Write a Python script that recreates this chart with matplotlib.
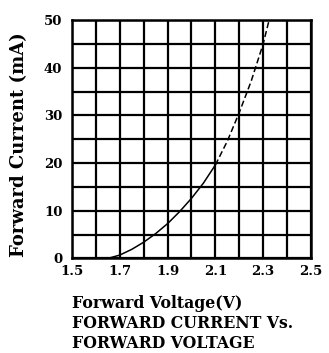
import matplotlib.pyplot as plt
import numpy as np

# measured part of the curve (solid) and extrapolated part (dashed)
v_solid = [1.65, 1.70, 1.75, 1.80, 1.85, 1.90, 1.95, 2.00, 2.05, 2.10]
i_solid = [0.0, 0.7, 1.9, 3.4, 5.2, 7.3, 9.8, 12.6, 15.8, 19.6]
v_dash = [2.10, 2.15, 2.20, 2.25, 2.30, 2.325]
i_dash = [19.6, 24.6, 30.6, 37.2, 45.0, 50.0]

x_ticks = [1.5, 1.7, 1.9, 2.1, 2.3, 2.5]
x_labels = ["1.5", "1.7", "1.9", "2.1", "2.3", "2.5"]
y_ticks = [0, 10, 20, 30, 40, 50]

FONT = "DejaVu Serif"

fig = plt.figure(figsize=(3.29, 3.53), dpi=100)
ax = fig.add_axes([0.219, 0.268, 0.726, 0.675])

ax.plot(v_solid, i_solid, color="black", lw=1.1)
ax.plot(v_dash, i_dash, color="black", lw=1.1, ls=(0, (4, 2)))

ax.set_xlim(1.5, 2.5)
ax.set_ylim(0, 50)

# 10 x 10 grid
ax.xaxis.remove_overlapping_locs = False
ax.yaxis.remove_overlapping_locs = False
ax.set_xticks(np.linspace(1.5, 2.5, 11), minor=True)
ax.set_yticks(np.linspace(0, 50, 11), minor=True)
ax.grid(which="minor", color="black", lw=1.6)
ax.tick_params(which="both", length=0)

ax.set_xticks(x_ticks)
ax.set_xticklabels(x_labels, fontfamily=FONT, fontweight="bold", fontsize=9.5)
ax.set_yticks(y_ticks)
ax.set_yticklabels([str(t) for t in y_ticks], fontfamily=FONT, fontweight="bold", fontsize=9.5)
ax.tick_params(axis="x", pad=5)
ax.tick_params(axis="y", pad=7)

for s in ax.spines.values():
    s.set_linewidth(1.8)

fig.text(0.058, 0.59, "Forward Current (mA)", rotation=90, ha="center", va="center",
         fontfamily=FONT, fontweight="bold", fontsize=13)

lines = ["Forward Voltage(V)", "FORWARD CURRENT Vs.", "FORWARD VOLTAGE"]
for k, t in enumerate(lines):
    fig.text(0.219, 1 - (304 + k * 19.5) / 353, t, ha="left", va="center",
             fontfamily=FONT, fontweight="bold", fontsize=11.3)

fig.savefig("out.png", dpi=100)
